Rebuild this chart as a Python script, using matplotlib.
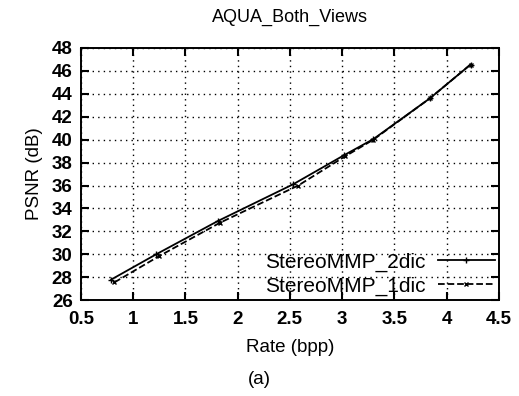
import matplotlib
matplotlib.use('Agg')
from matplotlib import pyplot as plt

# data
rate_2dic = [0.79, 1.22, 1.81, 2.53, 3.02, 3.30, 3.84, 4.23]
psnr_2dic = [27.8, 30.0, 32.9, 36.1, 38.65, 40.05, 43.6, 46.55]
rate_1dic = [0.82, 1.25, 1.83, 2.58, 3.03, 3.30, 3.84, 4.23]
psnr_1dic = [27.55, 29.85, 32.75, 36.0, 38.55, 40.0, 43.6, 46.55]

xticks = [0.5, 1, 1.5, 2, 2.5, 3, 3.5, 4, 4.5]
yticks = list(range(26, 49, 2))

plt.rcParams['font.family'] = ['Liberation Sans', 'DejaVu Sans']

fig = plt.figure(figsize=(5.19, 3.96), dpi=100)
ax = fig.add_axes([0.156, 0.242, 0.805, 0.637])

ax.plot(rate_2dic, psnr_2dic, '-', color='black', lw=1.3, marker='+', ms=4, mew=1, label='StereoMMP_2dic')
ax.plot(rate_1dic, psnr_1dic, '--', color='black', lw=1.3, marker='x', ms=3, mew=1, label='StereoMMP_1dic')

ax.set_xlim(0.5, 4.5)
ax.set_ylim(26, 48)
ax.set_xticks(xticks)
ax.set_xticklabels([('%g' % t) for t in xticks], fontweight='bold')
ax.set_yticks(yticks)
ax.set_yticklabels([str(t) for t in yticks], fontweight='bold')
ax.tick_params(direction='in', length=6, width=1.5, labelsize=13.5, top=True, right=True, colors='black')
ax.tick_params(axis='x', pad=8)
ax.tick_params(axis='y', pad=6)
ax.grid(True, linestyle=(0, (1, 3)), color='black', lw=1)
for s in ax.spines.values():
    s.set_linewidth(1.4)

ax.set_title('AQUA_Both_Views', fontsize=13, pad=19)
ax.set_xlabel('Rate (bpp)', fontsize=13.5, labelpad=8)
ax.set_ylabel('PSNR (dB)', fontsize=13.5, labelpad=6)
fig.text(0.5, 0.03, '(a)', fontsize=13.5, ha='center')

leg = ax.legend(loc='lower right', frameon=False, markerfirst=False, fontsize=15,
                handlelength=2.7, borderaxespad=0.1, borderpad=0.1,
                labelspacing=0.25, handletextpad=0.6)

fig.savefig('out.png', dpi=100)
